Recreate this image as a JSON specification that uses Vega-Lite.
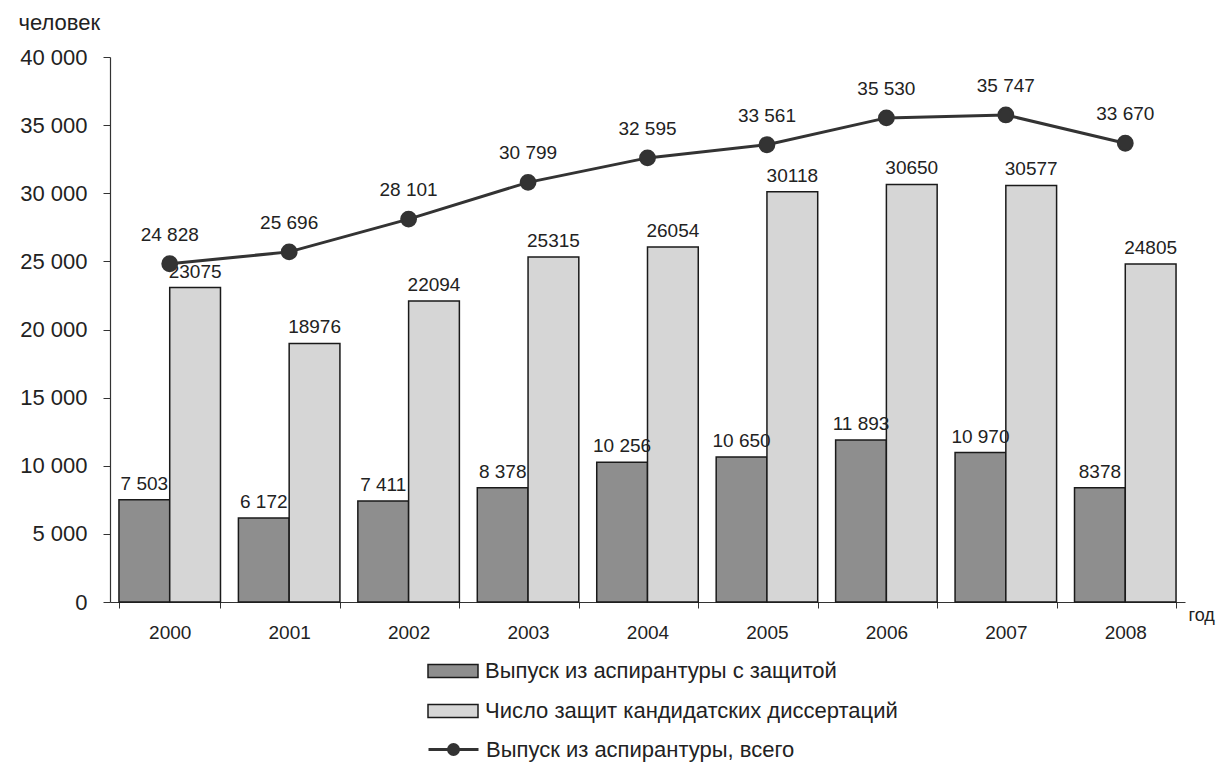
{
  "$schema": "https://vega.github.io/schema/vega-lite/v6.json",
  "width": 1075,
  "height": 545,
  "autosize": {"type": "none"},
  "padding": {"left": 110, "top": 57, "right": 35, "bottom": 161},
  "background": "white",
  "config": {
    "view": {"stroke": null},
    "font": "Liberation Sans",
    "axis": {"grid": false, "domainColor": "#333", "tickColor": "#333", "labelColor": "#222", "labelFont": "Liberation Sans", "titleFont": "Liberation Sans", "titleColor": "#222", "titleFontWeight": "normal"},
    "legend": {"labelFont": "Liberation Sans", "labelColor": "#222", "labelFontSize": 22, "labelLimit": 600, "padding": 0}
  },
  "datasets": {
    "bars": [
      {"year": "2000", "series": "Выпуск из аспирантуры с защитой", "value": 7503, "label": "7 503"},
      {"year": "2001", "series": "Выпуск из аспирантуры с защитой", "value": 6172, "label": "6 172"},
      {"year": "2002", "series": "Выпуск из аспирантуры с защитой", "value": 7411, "label": "7 411"},
      {"year": "2003", "series": "Выпуск из аспирантуры с защитой", "value": 8378, "label": "8 378"},
      {"year": "2004", "series": "Выпуск из аспирантуры с защитой", "value": 10256, "label": "10 256"},
      {"year": "2005", "series": "Выпуск из аспирантуры с защитой", "value": 10650, "label": "10 650"},
      {"year": "2006", "series": "Выпуск из аспирантуры с защитой", "value": 11893, "label": "11 893"},
      {"year": "2007", "series": "Выпуск из аспирантуры с защитой", "value": 10970, "label": "10 970"},
      {"year": "2008", "series": "Выпуск из аспирантуры с защитой", "value": 8378, "label": "8378"},
      {"year": "2000", "series": "Число защит кандидатских диссертаций", "value": 23075, "label": "23075"},
      {"year": "2001", "series": "Число защит кандидатских диссертаций", "value": 18976, "label": "18976"},
      {"year": "2002", "series": "Число защит кандидатских диссертаций", "value": 22094, "label": "22094"},
      {"year": "2003", "series": "Число защит кандидатских диссертаций", "value": 25315, "label": "25315"},
      {"year": "2004", "series": "Число защит кандидатских диссертаций", "value": 26054, "label": "26054"},
      {"year": "2005", "series": "Число защит кандидатских диссертаций", "value": 30118, "label": "30118"},
      {"year": "2006", "series": "Число защит кандидатских диссертаций", "value": 30650, "label": "30650"},
      {"year": "2007", "series": "Число защит кандидатских диссертаций", "value": 30577, "label": "30577"},
      {"year": "2008", "series": "Число защит кандидатских диссертаций", "value": 24805, "label": "24805"}
    ],
    "line": [
      {"year": "2000", "series": "Выпуск из аспирантуры, всего", "value": 24828, "label": "24 828"},
      {"year": "2001", "series": "Выпуск из аспирантуры, всего", "value": 25696, "label": "25 696"},
      {"year": "2002", "series": "Выпуск из аспирантуры, всего", "value": 28101, "label": "28 101"},
      {"year": "2003", "series": "Выпуск из аспирантуры, всего", "value": 30799, "label": "30 799"},
      {"year": "2004", "series": "Выпуск из аспирантуры, всего", "value": 32595, "label": "32 595"},
      {"year": "2005", "series": "Выпуск из аспирантуры, всего", "value": 33561, "label": "33 561"},
      {"year": "2006", "series": "Выпуск из аспирантуры, всего", "value": 35530, "label": "35 530"},
      {"year": "2007", "series": "Выпуск из аспирантуры, всего", "value": 35747, "label": "35 747"},
      {"year": "2008", "series": "Выпуск из аспирантуры, всего", "value": 33670, "label": "33 670"}
    ]
  },
  "layer": [
    {
      "data": {"name": "bars"},
      "mark": {"type": "bar", "stroke": "#1a1a1a", "strokeWidth": 1.5},
      "encoding": {
        "x": {"field": "year", "type": "nominal", "scale": {"paddingInner": 0.15, "paddingOuter": 0.075},
          "axis": {"title": "год", "titleX": 1078, "titleY": 22, "titleAlign": "left", "titleBaseline": "bottom", "titleFontSize": 18, "labelAngle": 0, "labelFontSize": 19, "labelPadding": 15, "tickBand": "extent", "tickSize": 6, "domainWidth": 1.2}},
        "xOffset": {"field": "series", "type": "nominal", "scale": {"domain": ["Выпуск из аспирантуры с защитой", "Число защит кандидатских диссертаций"], "paddingInner": 0, "paddingOuter": 0}},
        "y": {"field": "value", "type": "quantitative", "scale": {"domain": [0, 40000], "nice": false},
          "axis": {"title": "человек", "titleAngle": 0, "titleX": -92, "titleY": -28, "titleAlign": "left", "titleBaseline": "alphabetic", "titleFontSize": 22, "values": [0, 5000, 10000, 15000, 20000, 25000, 30000, 35000, 40000], "labelExpr": "replace(format(datum.value, ','), ',', ' ')", "labelFontSize": 22, "labelPadding": 16, "tickSize": 7, "domainWidth": 1.2}},
        "fill": {"field": "series", "type": "nominal", "scale": {"domain": ["Выпуск из аспирантуры с защитой", "Число защит кандидатских диссертаций"], "range": ["#8e8e8e", "#d6d6d6"]},
          "legend": {"title": null, "orient": "none", "legendX": 332, "legendY": 603, "direction": "vertical", "symbolType": "M-2.5,-0.65H2.5V0.65H-2.5Z", "symbolSize": 400, "symbolStrokeColor": "#1a1a1a", "symbolStrokeWidth": 1.5, "labelOffset": 21, "rowPadding": 18}}
      }
    },
    {
      "data": {"name": "bars"},
      "mark": {"type": "text", "baseline": "bottom", "dy": -6, "fontSize": 19, "color": "#222"},
      "encoding": {
        "x": {"field": "year", "type": "nominal"},
        "xOffset": {"field": "series", "type": "nominal"},
        "y": {"field": "value", "type": "quantitative"},
        "text": {"field": "label", "type": "nominal"}
      }
    },
    {
      "data": {"name": "line"},
      "mark": {"type": "line", "strokeWidth": 3, "point": {"filled": true, "fill": "#333", "size": 220}},
      "encoding": {
        "x": {"field": "year", "type": "nominal"},
        "y": {"field": "value", "type": "quantitative"},
        "stroke": {"field": "series", "type": "nominal", "scale": {"range": ["#333333"]},
          "legend": {"title": null, "orient": "none", "legendX": 332, "legendY": 681, "symbolType": "M-2.5,0H2.5M-0.5,0A0.5,0.5,0,1,1,0.5,0A0.5,0.5,0,1,1,-0.5,0Z", "symbolSize": 400, "symbolStrokeWidth": 3, "symbolFillColor": "#333", "labelOffset": 21}}
      }
    },
    {
      "data": {"name": "line"},
      "mark": {"type": "text", "baseline": "bottom", "dy": -19, "fontSize": 19, "color": "#222"},
      "encoding": {
        "x": {"field": "year", "type": "nominal"},
        "y": {"field": "value", "type": "quantitative"},
        "text": {"field": "label", "type": "nominal"}
      }
    }
  ]
}
